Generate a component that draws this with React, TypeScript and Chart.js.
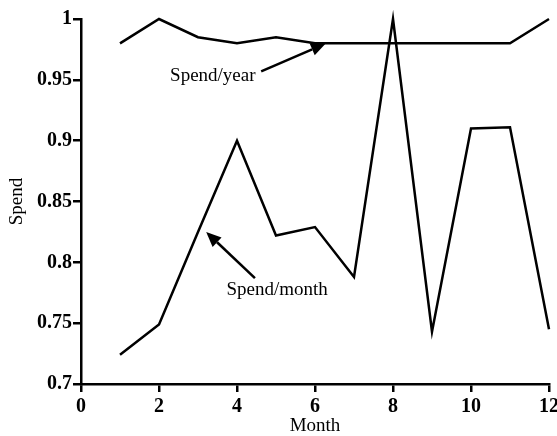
import React, { useEffect, useRef } from "react";
import { Chart, registerables } from "chart.js";

Chart.register(...registerables);

const months = [1, 2, 3, 4, 5, 6, 7, 8, 9, 10, 11, 12];
const spendYear = [0.98, 1.0, 0.985, 0.98, 0.985, 0.98, 0.98, 0.98, 0.98, 0.98, 0.98, 1.0];
const spendMonth = [0.724, 0.749, 0.825, 0.9, 0.822, 0.829, 0.788, 1.0, 0.743, 0.91, 0.911, 0.745];
const xTicks = [0, 2, 4, 6, 8, 10, 12];
const yTicks = [0.7, 0.75, 0.8, 0.85, 0.9, 0.95, 1];

const annotations = [
  { text: "Spend/year", tx: 3.38, ty: 0.953, ax0: 4.62, ay0: 0.957, ax1: 6.28, ay1: 0.98 },
  { text: "Spend/month", tx: 5.03, ty: 0.777, ax0: 4.46, ay0: 0.787, ax1: 3.21, ay1: 0.825 },
];

const SERIF = "'Liberation Serif', 'Times New Roman', serif";

const annotationPlugin = {
  id: "arrowNotes",
  afterDatasetsDraw(chart: any) {
    const { ctx, scales } = chart;
    const xs = scales.x;
    const ys = scales.y;
    ctx.save();
    ctx.fillStyle = "#000";
    ctx.strokeStyle = "#000";
    ctx.font = `19px ${SERIF}`;
    ctx.textAlign = "center";
    ctx.textBaseline = "middle";
    for (const a of annotations) {
      ctx.fillText(a.text, xs.getPixelForValue(a.tx), ys.getPixelForValue(a.ty));
      const x0 = xs.getPixelForValue(a.ax0);
      const y0 = ys.getPixelForValue(a.ay0);
      const x1 = xs.getPixelForValue(a.ax1);
      const y1 = ys.getPixelForValue(a.ay1);
      const ang = Math.atan2(y1 - y0, x1 - x0);
      const len = 15;
      const half = 6.5;
      const bx = x1 - len * Math.cos(ang);
      const by = y1 - len * Math.sin(ang);
      ctx.lineWidth = 2.5;
      ctx.beginPath();
      ctx.moveTo(x0, y0);
      ctx.lineTo(bx, by);
      ctx.stroke();
      ctx.beginPath();
      ctx.moveTo(x1, y1);
      ctx.lineTo(bx + half * Math.sin(ang), by - half * Math.cos(ang));
      ctx.lineTo(bx - half * Math.sin(ang), by + half * Math.cos(ang));
      ctx.closePath();
      ctx.fill();
    }
    ctx.restore();
  },
};

export default function App() {
  const ref = useRef<HTMLCanvasElement | null>(null);
  useEffect(() => {
    if (!ref.current) return;
    const chart = new Chart(ref.current, {
      type: "line",
      data: {
        datasets: [
          {
            label: "Spend/year",
            data: months.map((m, i) => ({ x: m, y: spendYear[i] })),
            borderColor: "#000",
            borderWidth: 2.5,
            pointRadius: 0,
            tension: 0,
            clip: false as any,
          },
          {
            label: "Spend/month",
            data: months.map((m, i) => ({ x: m, y: spendMonth[i] })),
            borderColor: "#000",
            borderWidth: 2.5,
            pointRadius: 0,
            tension: 0,
            clip: false as any,
          },
        ],
      },
      options: {
        animation: false,
        responsive: false,
        layout: { padding: { left: 0, right: 8, top: 19, bottom: 0 } },
        plugins: { legend: { display: false }, tooltip: { enabled: false } },
        scales: {
          x: {
            type: "linear",
            min: 0,
            max: 12,
            afterBuildTicks: (s: any) => {
              s.ticks = xTicks.map((v) => ({ value: v }));
            },
            afterFit: (s: any) => {
              s.height = 52;
              s.paddingRight = 0;
              s.paddingLeft = 0;
            },
            grid: { drawOnChartArea: false, drawTicks: true, tickLength: 8, color: "#000", lineWidth: 2.5 },
            border: { display: true, color: "#000", width: 2.5 },
            ticks: {
              color: "#000",
              padding: 3,
              maxRotation: 0,
              font: { family: SERIF, size: 20, weight: "bold" },
              callback: (v: any) => String(v),
            },
            title: {
              display: true,
              text: "Month",
              color: "#000",
              padding: { top: 0, bottom: 0 },
              font: { family: SERIF, size: 19, lineHeight: 1.0 },
            },
          },
          y: {
            type: "linear",
            min: 0.7,
            max: 1,
            afterBuildTicks: (s: any) => {
              s.ticks = yTicks.map((v) => ({ value: v }));
            },
            afterFit: (s: any) => {
              s.width = 81;
              s.paddingTop = 0;
              s.paddingBottom = 0;
            },
            grid: { drawOnChartArea: false, drawTicks: true, tickLength: 8, color: "#000", lineWidth: 2.5 },
            border: { display: true, color: "#000", width: 2.5 },
            ticks: {
              color: "#000",
              padding: 1,
              font: { family: SERIF, size: 20, weight: "bold" },
              callback: (v: any) => String(+Number(v).toFixed(2)),
            },
            title: {
              display: true,
              text: "Spend",
              color: "#000",
              padding: { top: 8, bottom: 0 },
              font: { family: SERIF, size: 19, lineHeight: 1.0 },
            },
          },
        },
      },
      plugins: [annotationPlugin],
    });
    return () => chart.destroy();
  }, []);
  return (
    <div style={{ position: "fixed", left: 0, top: 0, width: 557, height: 436, background: "#fff" }}>
      <canvas ref={ref} width={557} height={436} style={{ display: "block" }} />
    </div>
  );
}
